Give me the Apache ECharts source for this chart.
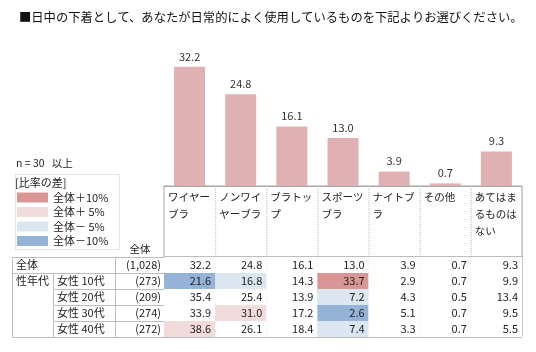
<!DOCTYPE html>
<html>
<head>
<meta charset="utf-8">
<script src="https://cdn.jsdelivr.net/npm/echarts@6/dist/echarts.min.js"></script>
<style>
  html, body { margin: 0; padding: 0; background: #fff; }
  #chart { width: 536px; height: 352px; }
</style>
</head>
<body>
<div id="chart"></div>
<script>
    // 列（選択肢）
    var categories = ['ワイヤー\nブラ', 'ノンワイ\nヤーブラ', 'ブラトッ\nプ', 'スポーツ\nブラ', 'ナイトブ\nラ', 'その他', 'あてはま\nるものは\nない'];
    // 行ラベル
    var rowLabels = ['全体', '女性 10代', '女性 20代', '女性 30代', '女性 40代'];
    var rowN = ['(1,028)', '(273)', '(209)', '(274)', '(272)'];
    // 値
    var total    = [32.2, 24.8, 16.1, 13.0, 3.9, 0.7, 9.3];
    var teens    = [21.6, 16.8, 14.3, 33.7, 2.9, 0.7, 9.9];
    var twenties = [35.4, 25.4, 13.9, 7.2, 4.3, 0.5, 13.4];
    var thirties = [33.9, 31.0, 17.2, 2.6, 5.1, 0.7, 9.5];
    var forties  = [38.6, 26.1, 18.4, 7.4, 3.3, 0.7, 5.5];
    var rows = [total, teens, twenties, thirties, forties];

    var FONT = '"Noto Sans CJK JP", sans-serif';
    var LINE = '#bdbdbd';
    var BORDER = '#a6a6a6';

    // 表のセル [列, 行, 値, 全体との差]
    var cells = [];
    for (var r = 0; r < rows.length; r++) {
        for (var c = 0; c < categories.length; c++) {
            var diff = Math.round((rows[r][c] - total[c]) * 10) / 10;
            cells.push([c, r, rows[r][c], diff]);
        }
    }
    var headerCells = [];
    for (var i = 0; i < categories.length; i++) {
        headerCells.push([i, 0]);
    }
    var leftCells = [];
    for (var j = 0; j < rowLabels.length; j++) {
        leftCells.push([0, j]);
    }

    function renderHeader(params, api) {
        var p = api.coord([api.value(0), 0]);
        var s = api.size([1, 1]);
        var x = p[0] - s[0] / 2, y = p[1] - s[1] / 2;
        var idx = api.value(0);
        var children = [
            {type: 'line', shape: {x1: x + s[0] + 0.5, y1: y, x2: x + s[0] + 0.5, y2: y + s[1]},
             style: {stroke: LINE, lineDash: [1, 1], lineWidth: 1}},
            {type: 'text', x: x + 4, y: y + 3,
             style: {text: categories[idx], fontSize: 10.5, fontFamily: FONT, lineHeight: 17,
                     align: 'left', verticalAlign: 'top', fill: '#222'}}
        ];
        if (idx == 0) {
            children.push({type: 'text', x: params.coordSys.x - 24, y: y + s[1] - 8,
                style: {text: '全体', fontSize: 10.5, fontFamily: FONT, align: 'center', verticalAlign: 'middle', fill: '#222'}});
        }
        return {type: 'group', children: children};
    }

    function renderBody(params, api) {
        var p = api.coord([api.value(0), api.value(1)]);
        var s = api.size([1, 1]);
        var x = p[0] - s[0] / 2, y = p[1] - s[1] / 2;
        return {type: 'group', children: [
            {type: 'rect', shape: {x: x, y: y, width: s[0], height: s[1]}, style: {fill: api.visual('color')}},
            {type: 'line', shape: {x1: x + s[0] + 0.5, y1: y, x2: x + s[0] + 0.5, y2: y + s[1]},
             style: {stroke: LINE, lineDash: [1, 1], lineWidth: 1}},
            {type: 'line', shape: {x1: x, y1: y + s[1] + 0.5, x2: x + s[0], y2: y + s[1] + 0.5},
             style: {stroke: LINE, lineWidth: 1}},
            {type: 'text', x: x + s[0] - 4, y: p[1],
             style: {text: api.value(2).toFixed(1), fontSize: 11, fontFamily: FONT,
                     align: 'right', verticalAlign: 'middle', fill: '#222'}}
        ]};
    }

    function renderLeft(params, api) {
        var row = api.value(1);
        var p = api.coord([0, row]);
        var s = api.size([1, 1]);
        var h = s[1];
        var y = p[1] - h / 2;
        var gx = params.coordSys.x;
        var x0 = gx - 152, x1 = gx - 111, x2 = gx - 49;
        var st = {fill: '#fff', stroke: LINE, lineWidth: 1};
        var txt = {fontSize: 11, fontFamily: FONT, verticalAlign: 'middle', fill: '#222'};
        var children = [];
        if (row == 0) {
            children.push({type: 'rect', shape: {x: x0 + 0.5, y: y + 0.5, width: x2 - x0, height: h}, style: st});
            children.push({type: 'text', x: x0 + 4, y: p[1], style: Object.assign({text: rowLabels[row], align: 'left'}, txt)});
        } else {
            if (row == 1) {
                children.push({type: 'rect', shape: {x: x0 + 0.5, y: y + 0.5, width: x1 - x0, height: h * 4}, style: st});
                children.push({type: 'text', x: x0 + 4, y: p[1], style: Object.assign({text: '性年代', align: 'left'}, txt)});
            }
            children.push({type: 'rect', shape: {x: x1 + 0.5, y: y + 0.5, width: x2 - x1, height: h}, style: st});
            children.push({type: 'text', x: x1 + 4, y: p[1], style: Object.assign({text: rowLabels[row], align: 'left'}, txt)});
        }
        children.push({type: 'rect', shape: {x: x2 + 0.5, y: y + 0.5, width: gx - x2, height: h}, style: st});
        children.push({type: 'text', x: gx - 3, y: p[1], style: Object.assign({text: rowN[row], align: 'right'}, txt)});
        return {type: 'group', children: children};
    }

    var chart = echarts.init(document.getElementById('chart'));
    var option = {
        animation: false,
        textStyle: {fontFamily: FONT},
        title: {
            text: '■日中の下着として、あなたが日常的によく使用しているものを下記よりお選びください。',
            left: 14, top: 6,
            textStyle: {fontSize: 12.3, fontWeight: 'normal', color: '#111', fontFamily: FONT}
        },
        grid: [
            {left: 164, width: 358, top: 38, height: 148},
            {left: 164, width: 358, top: 186, height: 71, show: true, borderColor: BORDER, borderWidth: 1},
            {left: 164, width: 358, top: 257, height: 80, show: true, borderColor: BORDER, borderWidth: 1}
        ],
        xAxis: [
            {type: 'category', gridIndex: 0, data: categories,
             axisLine: {lineStyle: {color: BORDER}}, axisTick: {show: false}, axisLabel: {show: false}},
            {type: 'category', gridIndex: 1, data: categories, show: false},
            {type: 'category', gridIndex: 2, data: categories, show: false}
        ],
        yAxis: [
            {type: 'value', gridIndex: 0, min: 0, max: 40, show: false},
            {type: 'category', gridIndex: 1, data: ['h'], show: false},
            {type: 'category', gridIndex: 2, data: rowLabels, inverse: true, show: false}
        ],
        visualMap: {
            type: 'piecewise',
            seriesIndex: 3,
            dimension: 3,
            orient: 'vertical',
            left: 17, top: 192,
            padding: 0,
            itemWidth: 31, itemHeight: 10, itemGap: 3.5, textGap: 5,
            itemSymbol: 'rect',
            selectedMode: false,
            hoverLink: false,
            pieces: [
                {gte: 10, label: '全体＋10%', color: '#da9694'},
                {gte: 5, lt: 10, label: '全体＋ 5%', color: '#f2dcdb'},
                {gt: -10, lte: -5, label: '全体－ 5%', color: '#dce6f1'},
                {lte: -10, label: '全体－10%', color: '#95b3d7'}
            ],
            outOfRange: {color: '#ffffff'},
            textStyle: {fontSize: 11, color: '#222', fontFamily: FONT}
        },
        graphic: [
            {type: 'text', left: 16, top: 158, style: {text: 'n = 30   以上', fontSize: 10.5, fontFamily: FONT, fill: '#222'}},
            {type: 'rect', left: 13, top: 172, shape: {width: 104, height: 75},
             style: {fill: 'none', stroke: '#c8c8c8', lineDash: [1, 1]}},
            {type: 'text', left: 15, top: 177, style: {text: '[比率の差]', fontSize: 11, fontFamily: FONT, fill: '#222'}}
        ],
        series: [
            {
                type: 'bar', xAxisIndex: 0, yAxisIndex: 0,
                data: total,
                barWidth: 31,
                itemStyle: {color: '#dfb1b3'},
                label: {show: true, position: 'top', distance: 5, fontSize: 11, color: '#333',
                        formatter: function (p) { return p.value.toFixed(1); }}
            },
            {type: 'custom', xAxisIndex: 1, yAxisIndex: 1, data: headerCells, renderItem: renderHeader, silent: true},
            {type: 'custom', xAxisIndex: 2, yAxisIndex: 2, data: leftCells, renderItem: renderLeft, silent: true, clip: false},
            {type: 'custom', xAxisIndex: 2, yAxisIndex: 2, data: cells, renderItem: renderBody, silent: true}
        ]
    };
    chart.setOption(option);
</script>
</body>
</html>
